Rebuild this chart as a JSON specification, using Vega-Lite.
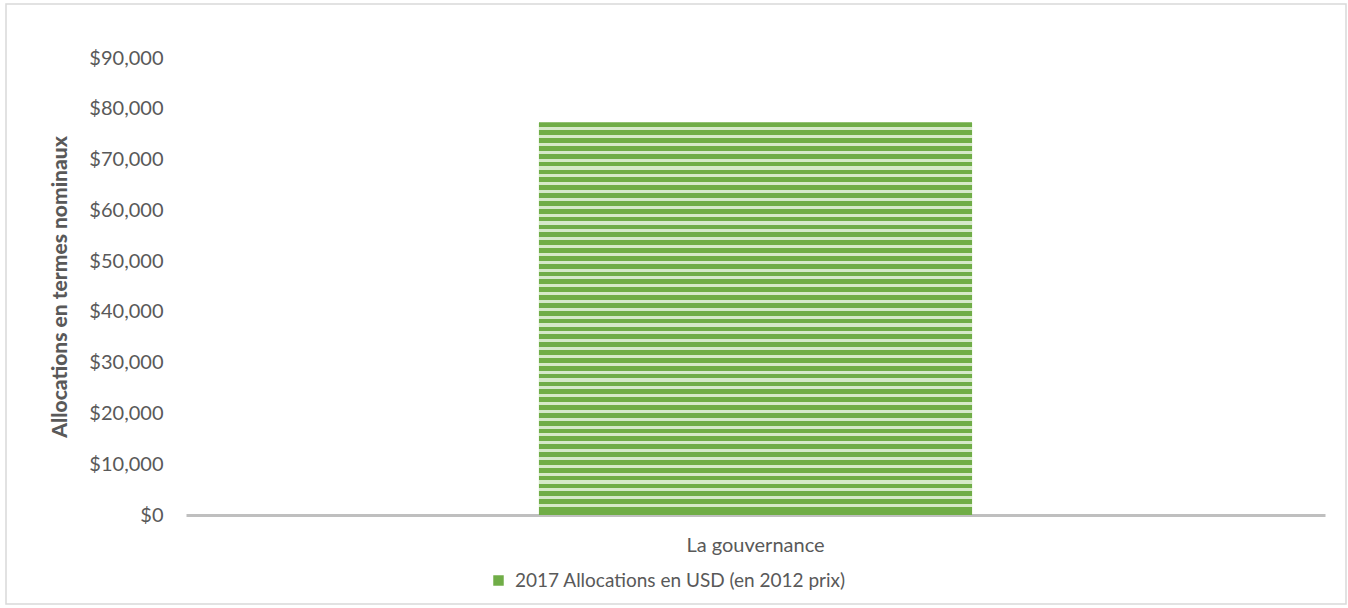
{
  "$schema": "https://vega.github.io/schema/vega-lite/v6.json",
  "width": 1340,
  "height": 600,
  "autosize": {"type": "none"},
  "padding": {"left": 6, "top": 4, "right": 2, "bottom": 4},
  "background": "white",
  "config": {"view": {"stroke": "#D9D9D9", "strokeWidth": 1.5}, "font": "Lato"},
  "data": {"values": [
    {"category": "La gouvernance", "value": 77300, "series": "2017 Allocations en USD (en 2012 prix)"}
  ]},
  "encoding": {
    "x": {
      "field": "category", "type": "nominal",
      "scale": {"range": [180, 1319], "paddingInner": 0, "paddingOuter": 0.815},
      "axis": {"title": null, "labelFont": "Lato", "labelFontSize": 20, "labelColor": "#595959", "domainColor": "#BFBFBF", "domainWidth": 3, "ticks": false, "labelPadding": 20, "offset": -89, "labelAngle": 0, "labelLimit": 0}
    },
    "y": {
      "field": "value", "type": "quantitative",
      "scale": {"domain": [0, 90000], "range": [511, 54], "nice": false, "zero": true},
      "axis": {"title": "Allocations en termes nominaux", "titleFont": "Lato", "titleFontSize": 21, "titleFontWeight": 900, "titleColor": "#595959", "labelFont": "Lato", "labelFontSize": 20, "labelColor": "#595959", "format": "$,.0f", "values": [0, 10000, 20000, 30000, 40000, 50000, 60000, 70000, 80000, 90000], "domain": false, "ticks": false, "grid": false, "labelPadding": 23, "offset": -180, "titlePadding": 18}
    }
  },
  "layer": [
    {
      "mark": {"type": "bar"},
      "encoding": {
        "color": {
          "field": "series", "type": "nominal",
          "scale": {"range": ["#70AD47"]},
          "legend": {"orient": "none", "legendX": 483, "legendY": 567, "direction": "horizontal", "title": null, "symbolType": "square", "symbolSize": 110, "labelFont": "Lato", "labelFontSize": 19, "labelColor": "#595959", "labelLimit": 0, "labelOffset": 7}
        }
      }
    },
    {
      "mark": {"type": "bar", "fill": {"gradient": "linear", "x1": 0, "y1": 0, "x2": 0, "y2": 1, "stops": [
        {"offset": 0.000, "color": "#70AD47"}, {"offset": 0.012, "color": "#70AD47"}, {"offset": 0.012, "color": "#D6E9C9"}, {"offset": 0.020, "color": "#D6E9C9"},
        {"offset": 0.020, "color": "#70AD47"}, {"offset": 0.032, "color": "#70AD47"}, {"offset": 0.032, "color": "#D6E9C9"}, {"offset": 0.040, "color": "#D6E9C9"},
        {"offset": 0.040, "color": "#70AD47"}, {"offset": 0.052, "color": "#70AD47"}, {"offset": 0.052, "color": "#D6E9C9"}, {"offset": 0.060, "color": "#D6E9C9"},
        {"offset": 0.060, "color": "#70AD47"}, {"offset": 0.072, "color": "#70AD47"}, {"offset": 0.072, "color": "#D6E9C9"}, {"offset": 0.080, "color": "#D6E9C9"},
        {"offset": 0.080, "color": "#70AD47"}, {"offset": 0.092, "color": "#70AD47"}, {"offset": 0.092, "color": "#D6E9C9"}, {"offset": 0.100, "color": "#D6E9C9"},
        {"offset": 0.100, "color": "#70AD47"}, {"offset": 0.112, "color": "#70AD47"}, {"offset": 0.112, "color": "#D6E9C9"}, {"offset": 0.120, "color": "#D6E9C9"},
        {"offset": 0.120, "color": "#70AD47"}, {"offset": 0.132, "color": "#70AD47"}, {"offset": 0.132, "color": "#D6E9C9"}, {"offset": 0.140, "color": "#D6E9C9"},
        {"offset": 0.140, "color": "#70AD47"}, {"offset": 0.152, "color": "#70AD47"}, {"offset": 0.152, "color": "#D6E9C9"}, {"offset": 0.160, "color": "#D6E9C9"},
        {"offset": 0.160, "color": "#70AD47"}, {"offset": 0.172, "color": "#70AD47"}, {"offset": 0.172, "color": "#D6E9C9"}, {"offset": 0.180, "color": "#D6E9C9"},
        {"offset": 0.180, "color": "#70AD47"}, {"offset": 0.192, "color": "#70AD47"}, {"offset": 0.192, "color": "#D6E9C9"}, {"offset": 0.200, "color": "#D6E9C9"},
        {"offset": 0.200, "color": "#70AD47"}, {"offset": 0.212, "color": "#70AD47"}, {"offset": 0.212, "color": "#D6E9C9"}, {"offset": 0.220, "color": "#D6E9C9"},
        {"offset": 0.220, "color": "#70AD47"}, {"offset": 0.232, "color": "#70AD47"}, {"offset": 0.232, "color": "#D6E9C9"}, {"offset": 0.240, "color": "#D6E9C9"},
        {"offset": 0.240, "color": "#70AD47"}, {"offset": 0.252, "color": "#70AD47"}, {"offset": 0.252, "color": "#D6E9C9"}, {"offset": 0.260, "color": "#D6E9C9"},
        {"offset": 0.260, "color": "#70AD47"}, {"offset": 0.272, "color": "#70AD47"}, {"offset": 0.272, "color": "#D6E9C9"}, {"offset": 0.280, "color": "#D6E9C9"},
        {"offset": 0.280, "color": "#70AD47"}, {"offset": 0.292, "color": "#70AD47"}, {"offset": 0.292, "color": "#D6E9C9"}, {"offset": 0.300, "color": "#D6E9C9"},
        {"offset": 0.300, "color": "#70AD47"}, {"offset": 0.312, "color": "#70AD47"}, {"offset": 0.312, "color": "#D6E9C9"}, {"offset": 0.320, "color": "#D6E9C9"},
        {"offset": 0.320, "color": "#70AD47"}, {"offset": 0.332, "color": "#70AD47"}, {"offset": 0.332, "color": "#D6E9C9"}, {"offset": 0.340, "color": "#D6E9C9"},
        {"offset": 0.340, "color": "#70AD47"}, {"offset": 0.352, "color": "#70AD47"}, {"offset": 0.352, "color": "#D6E9C9"}, {"offset": 0.360, "color": "#D6E9C9"},
        {"offset": 0.360, "color": "#70AD47"}, {"offset": 0.372, "color": "#70AD47"}, {"offset": 0.372, "color": "#D6E9C9"}, {"offset": 0.380, "color": "#D6E9C9"},
        {"offset": 0.380, "color": "#70AD47"}, {"offset": 0.392, "color": "#70AD47"}, {"offset": 0.392, "color": "#D6E9C9"}, {"offset": 0.400, "color": "#D6E9C9"},
        {"offset": 0.400, "color": "#70AD47"}, {"offset": 0.412, "color": "#70AD47"}, {"offset": 0.412, "color": "#D6E9C9"}, {"offset": 0.420, "color": "#D6E9C9"},
        {"offset": 0.420, "color": "#70AD47"}, {"offset": 0.432, "color": "#70AD47"}, {"offset": 0.432, "color": "#D6E9C9"}, {"offset": 0.440, "color": "#D6E9C9"},
        {"offset": 0.440, "color": "#70AD47"}, {"offset": 0.452, "color": "#70AD47"}, {"offset": 0.452, "color": "#D6E9C9"}, {"offset": 0.460, "color": "#D6E9C9"},
        {"offset": 0.460, "color": "#70AD47"}, {"offset": 0.472, "color": "#70AD47"}, {"offset": 0.472, "color": "#D6E9C9"}, {"offset": 0.480, "color": "#D6E9C9"},
        {"offset": 0.480, "color": "#70AD47"}, {"offset": 0.492, "color": "#70AD47"}, {"offset": 0.492, "color": "#D6E9C9"}, {"offset": 0.500, "color": "#D6E9C9"},
        {"offset": 0.500, "color": "#70AD47"}, {"offset": 0.512, "color": "#70AD47"}, {"offset": 0.512, "color": "#D6E9C9"}, {"offset": 0.520, "color": "#D6E9C9"},
        {"offset": 0.520, "color": "#70AD47"}, {"offset": 0.532, "color": "#70AD47"}, {"offset": 0.532, "color": "#D6E9C9"}, {"offset": 0.540, "color": "#D6E9C9"},
        {"offset": 0.540, "color": "#70AD47"}, {"offset": 0.552, "color": "#70AD47"}, {"offset": 0.552, "color": "#D6E9C9"}, {"offset": 0.560, "color": "#D6E9C9"},
        {"offset": 0.560, "color": "#70AD47"}, {"offset": 0.572, "color": "#70AD47"}, {"offset": 0.572, "color": "#D6E9C9"}, {"offset": 0.580, "color": "#D6E9C9"},
        {"offset": 0.580, "color": "#70AD47"}, {"offset": 0.592, "color": "#70AD47"}, {"offset": 0.592, "color": "#D6E9C9"}, {"offset": 0.600, "color": "#D6E9C9"},
        {"offset": 0.600, "color": "#70AD47"}, {"offset": 0.612, "color": "#70AD47"}, {"offset": 0.612, "color": "#D6E9C9"}, {"offset": 0.620, "color": "#D6E9C9"},
        {"offset": 0.620, "color": "#70AD47"}, {"offset": 0.632, "color": "#70AD47"}, {"offset": 0.632, "color": "#D6E9C9"}, {"offset": 0.640, "color": "#D6E9C9"},
        {"offset": 0.640, "color": "#70AD47"}, {"offset": 0.652, "color": "#70AD47"}, {"offset": 0.652, "color": "#D6E9C9"}, {"offset": 0.660, "color": "#D6E9C9"},
        {"offset": 0.660, "color": "#70AD47"}, {"offset": 0.672, "color": "#70AD47"}, {"offset": 0.672, "color": "#D6E9C9"}, {"offset": 0.680, "color": "#D6E9C9"},
        {"offset": 0.680, "color": "#70AD47"}, {"offset": 0.692, "color": "#70AD47"}, {"offset": 0.692, "color": "#D6E9C9"}, {"offset": 0.700, "color": "#D6E9C9"},
        {"offset": 0.700, "color": "#70AD47"}, {"offset": 0.712, "color": "#70AD47"}, {"offset": 0.712, "color": "#D6E9C9"}, {"offset": 0.720, "color": "#D6E9C9"},
        {"offset": 0.720, "color": "#70AD47"}, {"offset": 0.732, "color": "#70AD47"}, {"offset": 0.732, "color": "#D6E9C9"}, {"offset": 0.740, "color": "#D6E9C9"},
        {"offset": 0.740, "color": "#70AD47"}, {"offset": 0.752, "color": "#70AD47"}, {"offset": 0.752, "color": "#D6E9C9"}, {"offset": 0.760, "color": "#D6E9C9"},
        {"offset": 0.760, "color": "#70AD47"}, {"offset": 0.772, "color": "#70AD47"}, {"offset": 0.772, "color": "#D6E9C9"}, {"offset": 0.780, "color": "#D6E9C9"},
        {"offset": 0.780, "color": "#70AD47"}, {"offset": 0.792, "color": "#70AD47"}, {"offset": 0.792, "color": "#D6E9C9"}, {"offset": 0.800, "color": "#D6E9C9"},
        {"offset": 0.800, "color": "#70AD47"}, {"offset": 0.812, "color": "#70AD47"}, {"offset": 0.812, "color": "#D6E9C9"}, {"offset": 0.820, "color": "#D6E9C9"},
        {"offset": 0.820, "color": "#70AD47"}, {"offset": 0.832, "color": "#70AD47"}, {"offset": 0.832, "color": "#D6E9C9"}, {"offset": 0.840, "color": "#D6E9C9"},
        {"offset": 0.840, "color": "#70AD47"}, {"offset": 0.852, "color": "#70AD47"}, {"offset": 0.852, "color": "#D6E9C9"}, {"offset": 0.860, "color": "#D6E9C9"},
        {"offset": 0.860, "color": "#70AD47"}, {"offset": 0.872, "color": "#70AD47"}, {"offset": 0.872, "color": "#D6E9C9"}, {"offset": 0.880, "color": "#D6E9C9"},
        {"offset": 0.880, "color": "#70AD47"}, {"offset": 0.892, "color": "#70AD47"}, {"offset": 0.892, "color": "#D6E9C9"}, {"offset": 0.900, "color": "#D6E9C9"},
        {"offset": 0.900, "color": "#70AD47"}, {"offset": 0.912, "color": "#70AD47"}, {"offset": 0.912, "color": "#D6E9C9"}, {"offset": 0.920, "color": "#D6E9C9"},
        {"offset": 0.920, "color": "#70AD47"}, {"offset": 0.932, "color": "#70AD47"}, {"offset": 0.932, "color": "#D6E9C9"}, {"offset": 0.940, "color": "#D6E9C9"},
        {"offset": 0.940, "color": "#70AD47"}, {"offset": 0.952, "color": "#70AD47"}, {"offset": 0.952, "color": "#D6E9C9"}, {"offset": 0.960, "color": "#D6E9C9"},
        {"offset": 0.960, "color": "#70AD47"}, {"offset": 0.972, "color": "#70AD47"}, {"offset": 0.972, "color": "#D6E9C9"}, {"offset": 0.980, "color": "#D6E9C9"},
        {"offset": 0.980, "color": "#70AD47"}, {"offset": 1.000, "color": "#70AD47"}
      ]}}
    }
  ]
}
